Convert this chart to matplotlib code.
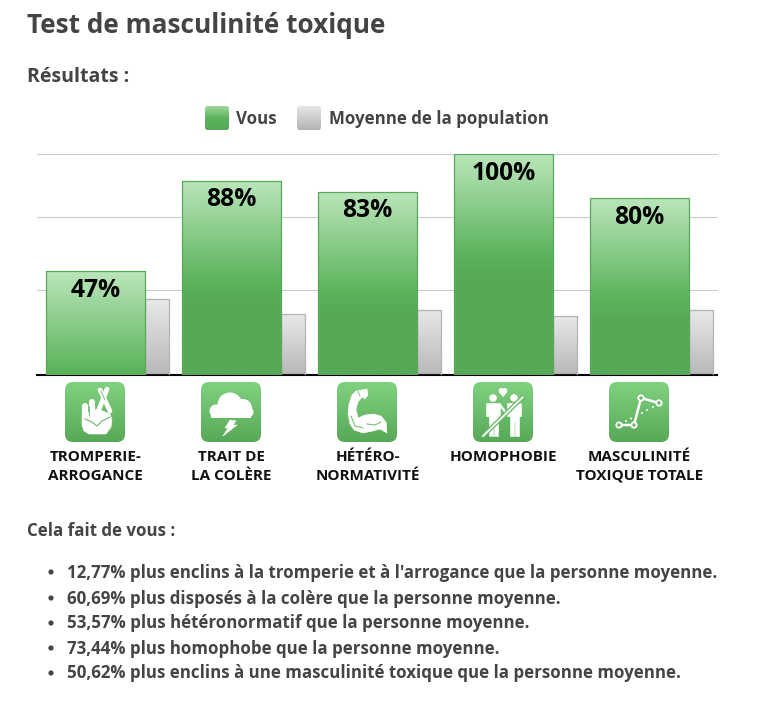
import numpy as np
import matplotlib
matplotlib.use("Agg")
import matplotlib.pyplot as plt
from matplotlib.colors import LinearSegmentedColormap as LSC
from matplotlib.patches import FancyBboxPatch, Circle, Polygon, Rectangle

plt.rcParams['font.family'] = ['Open Sans', 'DejaVu Sans']
plt.rcParams['font.weight'] = 'bold'

title = "Test de masculinité toxique"
subtitle = "Résultats :"
legend_labels = ["Vous", "Moyenne de la population"]
categories = ["TROMPERIE-\nARROGANCE", "TRAIT DE\nLA COLÈRE", "HÉTÉRO-\nNORMATIVITÉ",
              "HOMOPHOBIE", "MASCULINITÉ\nTOXIQUE TOTALE"]
you = [47, 88, 83, 100, 80]
population = [34.23, 27.6, 29.43, 26.7, 29.38]
grid_values = [38.5, 71.5, 100]
intro = "Cela fait de vous :"
bullets = ["12,77% plus enclins à la tromperie et à l'arrogance que la personne moyenne.",
           "60,69% plus disposés à la colère que la personne moyenne.",
           "53,57% plus hétéronormatif que la personne moyenne.",
           "73,44% plus homophobe que la personne moyenne.",
           "50,62% plus enclins à une masculinité toxique que la personne moyenne."]

W, H = 771, 701
DARK = "#444444"
fig = plt.figure(figsize=(W / 100, H / 100), dpi=100, facecolor="white")

# ---- chart axes (pixel box 37..717 x 154..375)
ax = fig.add_axes([37 / W, (H - 375) / H, 679.5 / W, 221 / H])
green_stops = [(0, "#bae6ba"), (0.81, "#5bb35b"), (1, "#57a857")]
green_cmap = LSC.from_list("g", green_stops)
gray_cmap = LSC.from_list("s", ["#e8e8e8", "#b8b8b8"])
G_SPAN = 56.5  # data units over which the green gradient runs from the bar top
bw, sw, off = 99.5 / 136, 24 / 136, 9 / 136
x = np.arange(len(you))

green = ax.bar(x + off, you, bw, align="edge", facecolor="none", edgecolor="#5aa95a", lw=0.9, zorder=4)
gray = ax.bar(x + off + bw, population, sw, align="edge", facecolor="none", edgecolor="#b4b4b4", lw=0.9, zorder=3)
for rect, v in zip(green, you):
    t = np.linspace(0, v / G_SPAN, 300).clip(0, 1)[:, None]
    im = ax.imshow(t, cmap=green_cmap, vmin=0, vmax=1, aspect="auto", zorder=3.5,
                   extent=(rect.get_x(), rect.get_x() + bw, 0, v), origin="upper")
    im.set_clip_path(rect)
for rect, v in zip(gray, population):
    t = np.linspace(0, 1, 100)[:, None]
    im = ax.imshow(t, cmap=gray_cmap, aspect="auto", zorder=2.5,
                   extent=(rect.get_x(), rect.get_x() + sw, 0, v), origin="upper")
    im.set_clip_path(rect)
for i, v in enumerate(you):
    ax.annotate(f"{v}%", (i + off + bw / 2, v), xytext=(0, -19), textcoords="offset pixels",
                ha="center", va="center", fontsize=17.7, color="black", zorder=6)

ax.set_xlim(0, 5)
ax.set_ylim(0, 100)
ax.set_axisbelow(True)
ax.set_yticks(grid_values)
ax.set_yticklabels([])
ax.tick_params(axis="y", length=0)
ax.set_xticks(x + off + bw / 2)
ax.set_xticklabels(categories, fontsize=11, color="#111111", linespacing=1.42)
ax.tick_params(axis="x", length=0, pad=54)
ax.yaxis.grid(True, color="#cccccc", lw=0.8, clip_on=False)
for s in ("top", "left", "right"):
    ax.spines[s].set_visible(False)
ax.spines["bottom"].set_linewidth(1.5)
ax.spines["bottom"].set_color("black")

# ---- pixel overlay
ov = fig.add_axes([0, 0, 1, 1], facecolor="none")
ov.set_xlim(0, W)
ov.set_ylim(H, 0)
ov.axis("off")

ov.text(27, 25.5, title, fontsize=18.9, color=DARK, va="center")
ov.text(27, 77, subtitle, fontsize=14, color=DARK, va="center")
ov.text(27, 531, intro, fontsize=12.2, color=DARK, va="center")
for y, b in zip([572, 598, 623, 648, 673], bullets):
    ov.add_patch(Circle((51, y), 2.6, fc=DARK, ec="none"))
    ov.text(67, y + 0.5, b, fontsize=12.2, color=DARK, va="center")


def rounded_grad(x0, y0, w, h, r, cmap):
    p = FancyBboxPatch((x0 + r, y0 + r), w - 2 * r, h - 2 * r, boxstyle=f"round,pad={r},rounding_size={r}",
                       fc="none", ec="none")
    ov.add_patch(p)
    im = ov.imshow(np.linspace(0, 1, 100)[:, None], cmap=cmap, aspect="auto",
                   extent=(x0, x0 + w, y0 + h, y0), zorder=1)
    im.set_clip_path(p)


# legend
rounded_grad(205, 106, 24, 24, 2.5, LSC.from_list("lg", ["#9fd89f", "#5cb35c", "#57a957"]))
rounded_grad(297, 106, 24, 24, 2.5, LSC.from_list("ls", ["#e6e6e6", "#b4b4b4"]))
ov.text(236, 119.5, legend_labels[0], fontsize=12.2, color=DARK, va="center")
ov.text(329, 119.5, legend_labels[1], fontsize=12.2, color=DARK, va="center")

# icons
icon_cmap = LSC.from_list("ic", ["#80d080", "#57a957"])
ICON_G = "#67b967"
icon_x = [65, 201, 337, 473, 609]
for ix in icon_x:
    rounded_grad(ix, 382, 60, 60, 8, icon_cmap)
WZ = 3


def line(ox, pts, lw, color="white", cap="round", z=WZ):
    p = np.array(pts, float)
    ov.plot(p[:, 0] + ox, p[:, 1] + 382, color=color, lw=lw, solid_capstyle=cap, zorder=z)


def poly(ox, pts, color="white", z=WZ):
    p = np.array(pts, float) + [ox, 382]
    ov.add_patch(Polygon(p, closed=True, fc=color, ec=color, lw=0.4, zorder=z, joinstyle="round"))


def circ(ox, cx, cy, r, color="white", z=WZ):
    ov.add_patch(Circle((ox + cx, cy + 382), r, fc=color, ec="none", zorder=z))


# hand
o = icon_x[0]
line(o, [(45, 29), (35, 8)], 3.4)
line(o, [(33, 30), (42, 7)], 3.4, z=3.2)
line(o, [(36, 9), (40, 18)], 0.6, ICON_G, z=3.3)
line(o, [(20, 24), (20, 38)], 4.4)
line(o, [(27, 20), (27, 38)], 4.4)
poly(o, [(17, 33), (33, 27), (45, 32), (47, 38), (46, 45), (41, 52), (24, 52), (19, 49), (17, 43)])
line(o, [(20, 37), (27, 40), (32, 44), (37, 39), (45, 35)], 0.8, ICON_G, z=3.4)
line(o, [(23.5, 24), (23.5, 34)], 0.6, ICON_G, z=3.4)

# cloud
o = icon_x[1]
circ(o, 29, 23, 12.5)
circ(o, 15, 29, 6.5)
circ(o, 42, 26, 9)
circ(o, 47, 30, 5.5)
ov.add_patch(Rectangle((o + 10, 382 + 27), 40, 8.5, fc="white", ec="none", zorder=WZ))
poly(o, [(29, 38), (35, 39), (32, 43), (36, 43), (22, 54), (27, 46), (24, 46)])

# arm
o = icon_x[2]
poly(o, [(19, 9), (30, 7), (31, 13), (28, 17), (25, 15), (21, 20), (19, 27), (21, 36), (28, 33), (37, 32),
         (44, 34), (49, 40), (50, 51), (43, 47), (36, 49), (26, 51), (17, 48), (13, 42), (11, 32), (12, 22), (15, 13)])
line(o, [(14, 34), (18, 44), (26, 46)], 0.7, ICON_G, z=3.4)
line(o, [(30, 42), (38, 43), (44, 40)], 0.7, ICON_G, z=3.4)
line(o, [(21, 9), (23, 14)], 0.6, ICON_G, z=3.4)

# couple
o = icon_x[3]
for hx in (20, 41):
    circ(o, hx, 16, 3.8)
    poly(o, [(hx - 7, 21), (hx + 7, 21), (hx + 7, 34), (hx + 4.5, 34), (hx + 4.5, 54), (hx + .5, 54), (hx + .5, 40),
             (hx - .5, 40), (hx - .5, 54), (hx - 4.5, 54), (hx - 4.5, 34), (hx - 7, 34)])
line(o, [(27, 23), (34, 32)], 1.6)
circ(o, 28.2, 8.5, 2.5)
circ(o, 31.8, 8.5, 2.5)
poly(o, [(26, 10), (34, 10), (30, 14.5)])
line(o, [(10, 54), (50, 15)], 3.2, "#6ab96a", z=3.5)
line(o, [(10, 54), (50, 15)], 1.3, "white", z=3.6)

# chart glyph
o = icon_x[4]
pts = [(10, 43), (25, 43), (32, 16), (50, 21)]
line(o, pts, 1.8)
for px, py in pts:
    circ(o, px, py, 3.6, z=3.2)
    circ(o, px, py, 1.7, ICON_G, z=3.3)
for px, py in [(17, 39), (22, 36.5), (33, 31), (38, 28), (44, 25)]:
    circ(o, px, py, 1.0)

ov.set_xlim(0, W)
ov.set_ylim(H, 0)
fig.savefig("out.png", dpi=100, facecolor="white")
